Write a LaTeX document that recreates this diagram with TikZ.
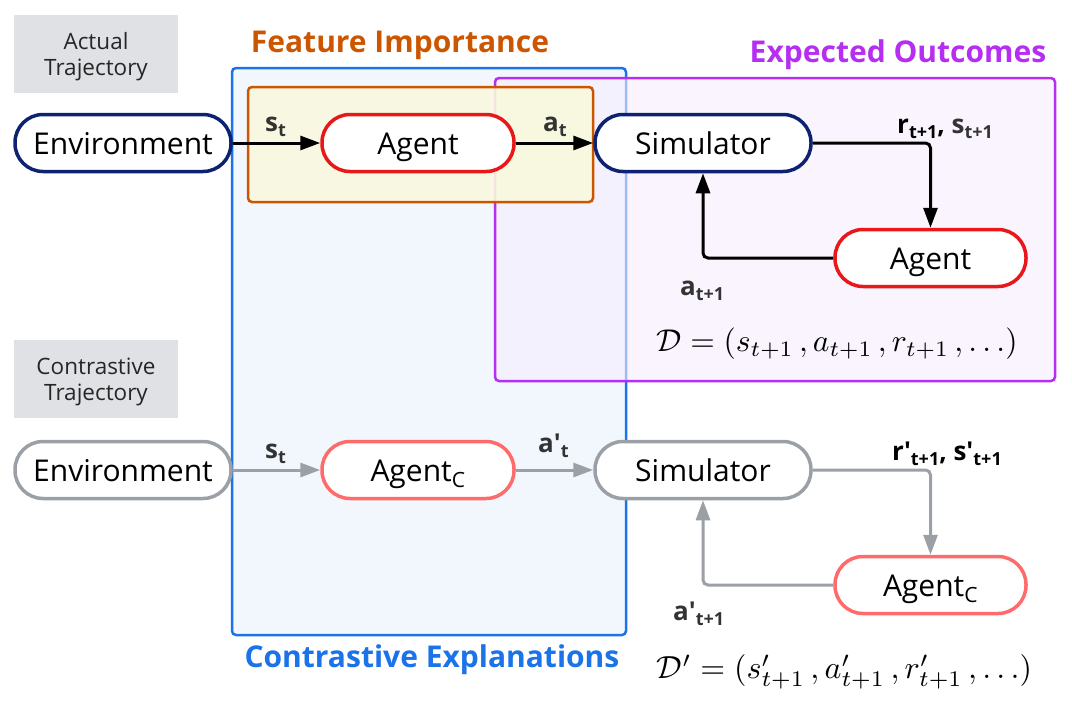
\documentclass[tikz,border=0pt]{standalone}
\usepackage{fontspec}
\usepackage{graphicx}
\setmainfont{Open Sans}
\usetikzlibrary{arrows.meta}
\definecolor{cblue}{HTML}{1A73E8}
\definecolor{cbluefill}{HTML}{F2F7FE}
\definecolor{cpurple}{HTML}{B52EF2}
\definecolor{cpurplefill}{HTML}{F5EDFD}
\definecolor{corange}{HTML}{CC5500}
\definecolor{cyellow}{HTML}{F9F9DF}
\definecolor{cnavy}{HTML}{0D2270}
\definecolor{cred}{HTML}{E8171A}
\definecolor{clred}{HTML}{FF6B6B}
\definecolor{cgray}{HTML}{9AA0A6}
\definecolor{cgraybox}{HTML}{DFE1E5}
\definecolor{clabel}{HTML}{333333}
\newcommand{\lsub}[1]{\raisebox{-5pt}{\fontsize{18}{18}\selectfont #1}}
\newcommand{\pr}{\textquotesingle}
\begin{document}
\begin{tikzpicture}[x=1pt,y=-1pt,
  pill/.style={draw, line width=3.5pt, rounded corners=28pt, minimum height=57pt,
    fill=white, inner sep=0pt, text height=22pt, text depth=0pt,
    font=\fontsize{30}{36}\selectfont},
  graybox/.style={fill=cgraybox, minimum width=164pt, minimum height=78pt, inner sep=0pt},
  graytext/.style={align=center, inner sep=0pt, font=\fontsize{22.5}{26}\selectfont, text=black!85},
  title/.style={font=\bfseries\fontsize{30}{34}\selectfont},
  lbl/.style={font=\bfseries\fontsize{26}{28}\selectfont, text=clabel, inner sep=0pt, anchor=base west},
  arr/.style={line width=3pt, rounded corners=5pt, -{Triangle[length=20pt,width=14pt]}},
  formula/.style={inner sep=0pt}]
\useasboundingbox (0,0) rectangle (1072,715);

% groups
\draw[cblue, fill=cbluefill, line width=2.5pt, rounded corners=4pt] (232,68) rectangle (626,635);
\draw[cpurple, fill=cpurplefill, fill opacity=0.6, line width=2.5pt, rounded corners=4pt] (495,78) rectangle (1055,381);
\draw[corange, fill=cyellow, fill opacity=0.9, line width=2.5pt, rounded corners=4pt] (248,87) rectangle (593,202);

\node[title, text=corange] (tfi) at (400,45) {Feature Importance};
\node[title, text=cpurple] (teo) at (898,55) {Expected Outcomes};
\node[title, text=cblue] (tce) at (432,660) {Contrastive Explanations};

\node[graybox] (gA) at (96,54) {};
\node[graytext] (gAt) at (96,57) {Actual\\Trajectory};
\node[graybox] (gC) at (96,379) {};
\node[graytext] (gCt) at (96,382) {Contrastive\\Trajectory};

% actual trajectory
\node[pill, draw=cnavy, minimum width=216pt] (env) at (123,143) {Environment};
\node[pill, draw=cred, minimum width=192pt] (ag) at (418,143) {Agent};
\node[pill, draw=cnavy, minimum width=216pt] (sim) at (703,143) {Simulator};
\node[pill, draw=cred, minimum width=191pt] (ag2) at (930.5,258) {Agent};

\draw[arr] (env.east) -- (ag.west);
\draw[arr] (ag.east) -- (sim.west);
\draw[arr] (sim.east) -| (ag2.north);
\draw[arr] (ag2.west) -| (sim.south);

\node[lbl] (lst) at (265,131) {s\lsub{t}};
\node[lbl] (lat) at (543,131) {a\lsub{t}};
\node[lbl, text=black] (lrs) at (897,133) {r\lsub{t+1}, {\color{clabel}s\lsub{t+1}}};
\node[lbl] (la1) at (680,295) {a\lsub{t+1}};
\node[formula] (D) at (837,344) {\resizebox{361pt}{!}{$\mathcal{D} = (s_{t+1}\,, a_{t+1}\,, r_{t+1}\,, \ldots)$}};

% contrastive trajectory
\node[pill, draw=cgray, minimum width=216pt] (envc) at (123,470) {Environment};
\node[pill, draw=clred, minimum width=192pt] (agc) at (418,470) {Agent\textsubscript{C}};
\node[pill, draw=cgray, minimum width=216pt] (simc) at (703,470) {Simulator};
\node[pill, draw=clred, minimum width=191pt] (agc2) at (930.5,585) {Agent\textsubscript{C}};

\draw[arr, cgray] (envc.east) -- (agc.west);
\draw[arr, cgray] (agc.east) -- (simc.west);
\draw[arr, cgray] (simc.east) -| (agc2.north);
\draw[arr, cgray] (agc2.west) -| (simc.south);

\node[lbl] (lstc) at (265,458) {s\lsub{t}};
\node[lbl] (latc) at (538,452) {a\pr\lsub{t}};
\node[lbl, text=black] (lrsc) at (892,460) {r\pr\lsub{t+1}, s\pr\lsub{t+1}};
\node[lbl] (la1c) at (673,620) {a\pr\lsub{t+1}};
\node[formula] (Dc) at (844.5,672) {\resizebox{375pt}{!}{$\mathcal{D}' = (s'_{t+1}\,, a'_{t+1}\,, r'_{t+1}\,, \ldots)$}};
\end{tikzpicture}
\end{document}
